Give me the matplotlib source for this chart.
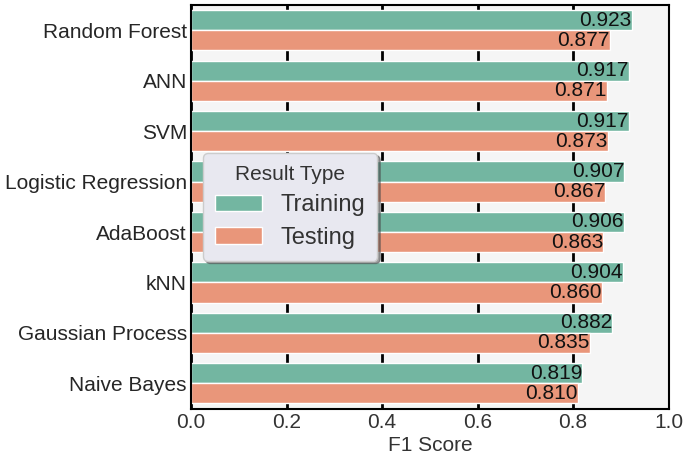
import numpy as np
import matplotlib.pyplot as plt

plt.rcParams['font.family'] = ['Liberation Sans', 'DejaVu Sans']

# data
models = ["Random Forest", "ANN", "SVM", "Logistic Regression", "AdaBoost",
          "kNN", "Gaussian Process", "Naive Bayes"]
training = [0.923, 0.917, 0.917, 0.907, 0.906, 0.904, 0.882, 0.819]
testing = [0.877, 0.871, 0.873, 0.867, 0.863, 0.860, 0.835, 0.810]

train_color = "#73b6a1"
test_color = "#e9967a"

fig, ax = plt.subplots(figsize=(6.85, 4.58), dpi=100)
fig.subplots_adjust(left=0.279, right=0.976, top=0.989, bottom=0.108)

ax.set_facecolor("#f5f5f5")
y = np.arange(len(models))
h = 0.4

ax.barh(y - h / 2, training, height=h, color=train_color, edgecolor="white",
        linewidth=1, label="Training", zorder=2)
ax.barh(y + h / 2, testing, height=h, color=test_color, edgecolor="white",
        linewidth=1, label="Testing", zorder=2)

for i in range(len(models)):
    ax.text(training[i], y[i] - h / 2, f"{training[i]:.3f}", ha="right",
            va="center", fontsize=15, color="#111111", zorder=3)
    ax.text(testing[i], y[i] + h / 2, f"{testing[i]:.3f}", ha="right",
            va="center", fontsize=15, color="#111111", zorder=3)

ax.set_xlim(0, 1.0)
ax.set_ylim(len(models) - 0.5, -0.5)
ax.set_yticks(y)
ax.set_yticklabels(models, fontsize=15, color="#262626")
ax.set_xticks([0.0, 0.2, 0.4, 0.6, 0.8, 1.0])
ax.set_xticklabels(["0.0", "0.2", "0.4", "0.6", "0.8", "1.0"], fontsize=15,
                   color="#333333")
ax.tick_params(axis="both", length=0, pad=3)
ax.set_xlabel("F1 Score", fontsize=15, color="#333333", labelpad=3)

ax.grid(axis="x", color="black", linewidth=2, zorder=1)
ax.set_axisbelow(True)
for s in ax.spines.values():
    s.set_color("black")
    s.set_linewidth(1.5)

leg = ax.legend(title="Result Type", loc="center left",
                bbox_to_anchor=(0.0, 0.5), fontsize=17, title_fontsize=15,
                handlelength=2.0, handleheight=0.7, shadow=True,
                fancybox=True, facecolor="#e8e8f0", edgecolor="#cccccc",
                framealpha=1.0, borderpad=0.5, labelspacing=0.45)
leg.get_title().set_color("#333333")
for t in leg.get_texts():
    t.set_color("#333333")

plt.savefig("out.png", dpi=100)
